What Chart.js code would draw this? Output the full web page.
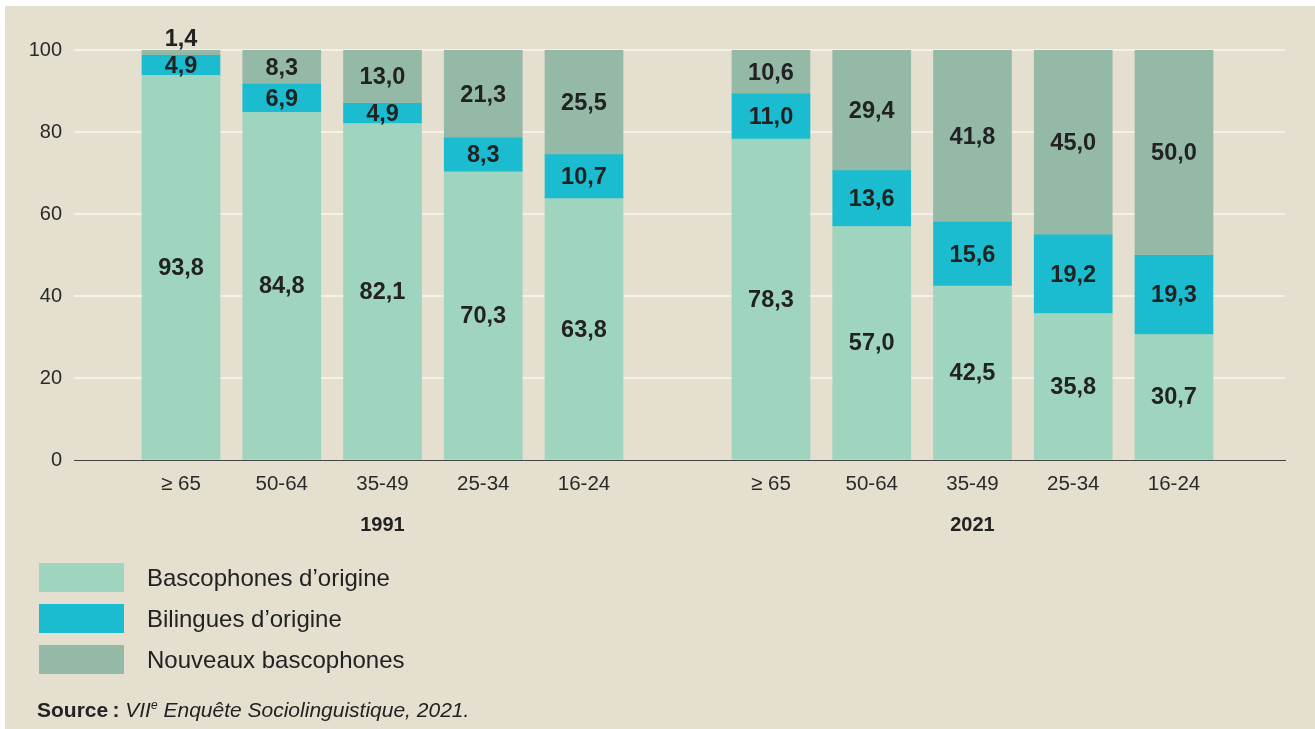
<!DOCTYPE html>
<html>
<head>
<meta charset="utf-8">
<script src="https://cdn.jsdelivr.net/npm/chart.js@4/dist/chart.umd.min.js"></script>
<style>
  html, body { margin: 0; padding: 0; background: #fff; }
  #page { position: relative; width: 1315px; height: 729px; overflow: hidden; font-family: "Liberation Sans", Arial, sans-serif; color: #222; }
  #bg { position: absolute; left: 5px; top: 6px; right: 0; bottom: 0; background: #e4dfce; }
  #chartBox { position: absolute; left: 0; top: 0; width: 1315px; height: 729px; }
  .legend-item { position: absolute; left: 39px; height: 29px; display: flex; align-items: center; font-size: 24px; }
  .legend-item span.box { display: inline-block; width: 85px; height: 29px; margin-right: 23px; }
  #source { position: absolute; left: 37px; top: 698px; font-size: 21px; line-height: 24px; }
  #source sup { font-size: 12px; vertical-align: 8px; line-height: 0; }
</style>
</head>
<body>
<div id="page">
  <div id="bg"></div>
  <div id="chartBox"><canvas id="mainChart"></canvas></div>
  <div id="legend"></div>
  <div id="source"><b>Source&#8239;:</b> <i>VII<sup>e</sup> Enquête Sociolinguistique, 2021.</i></div>
</div>
<script>
let years = ["1991", "2021"];
let ages = ["≥ 65", "50-64", "35-49", "25-34", "16-24"];
let seriesNames = ["Bascophones d’origine", "Bilingues d’origine", "Nouveaux bascophones"];
let bascophones = [93.8, 84.8, 82.1, 70.3, 63.8, 78.3, 57.0, 42.5, 35.8, 30.7];
let bilingues = [4.9, 6.9, 4.9, 8.3, 10.7, 11.0, 13.6, 15.6, 19.2, 19.3];
let nouveaux = [1.4, 8.3, 13.0, 21.3, 25.5, 10.6, 29.4, 41.8, 45.0, 50.0];
let colorHex = ["#9fd5bf", "#1cbcd0", "#95b9a7"];

// layout of the two year groups on a linear x axis
let groupStep = 5.856;
let xMin = -1.062;
let xMax = 10.958;
let xPos = bascophones.map((v, i) => (i % ages.length) + Math.floor(i / ages.length) * groupStep);
let yearPos = years.map((y, g) => (ages.length - 1) / 2 + g * groupStep);

let fontFamily = "'Liberation Sans', Arial, sans-serif";

let datasets = [bascophones, bilingues, nouveaux].map((values, k) => ({
  label: seriesNames[k],
  data: values.map((v, i) => ({ x: xPos[i], y: v })),
  backgroundColor: colorHex[k],
  borderWidth: 0,
  barThickness: 78,
}));

// value labels on the segments
let valueLabels = {
  id: "valueLabels",
  afterDatasetsDraw(chart) {
    let c = chart.ctx;
    c.save();
    c.font = "bold 23.5px " + fontFamily;
    c.fillStyle = "#222";
    c.textAlign = "center";
    chart.data.datasets.forEach((ds, k) => {
      let meta = chart.getDatasetMeta(k);
      meta.data.forEach((bar, i) => {
        let v = ds.data[i].y;
        let text = v.toFixed(1).replace(".", ",");
        if (v < 3) {
          c.textBaseline = "alphabetic";
          c.fillText(text, bar.x, bar.y - 4);
        } else {
          c.textBaseline = "middle";
          c.fillText(text, bar.x, (bar.y + bar.base) / 2 + 1);
        }
      });
    });
    c.restore();
  },
};

let ctx = document.getElementById("mainChart").getContext("2d");
let myChart = new Chart(ctx, {
  type: "bar",
  data: { datasets: datasets },
  plugins: [valueLabels],
  options: {
    responsive: false,
    animation: false,
    maintainAspectRatio: false,
    layout: { padding: { left: 0, right: 30, top: 50, bottom: 192.5 } },
    plugins: { legend: { display: false }, tooltip: { enabled: false } },
    scales: {
      x: {
        type: "linear",
        stacked: true,
        offset: false,
        min: xMin,
        max: xMax,
        weight: 0,
        grid: { display: false, drawTicks: false },
        border: { display: true, color: "#444", width: 1 },
        afterBuildTicks: (axis) => { axis.ticks = xPos.map((v) => ({ value: v })); },
        afterFit: (scale) => { scale.height = 36; },
        ticks: {
          autoSkip: false,
          maxRotation: 0,
          padding: 12,
          color: "#2a2a2a",
          font: { family: fontFamily, size: 20.5 },
          callback: (value, index) => ages[index % ages.length],
        },
      },
      yearAxis: {
        type: "linear",
        position: "bottom",
        offset: false,
        min: xMin,
        max: xMax,
        weight: 1,
        grid: { display: false, drawTicks: false },
        border: { display: false },
        afterBuildTicks: (axis) => { axis.ticks = yearPos.map((v) => ({ value: v })); },
        afterFit: (scale) => { scale.height = 40; },
        ticks: {
          autoSkip: false,
          maxRotation: 0,
          padding: 17,
          color: "#222",
          font: { family: fontFamily, size: 20, weight: "bold" },
          callback: (value, index) => years[index],
        },
      },
      y: {
        stacked: true,
        min: 0,
        max: 100,
        grid: {
          drawTicks: false,
          lineWidth: 2,
          color: (c) => (c.tick && c.tick.value === 0 ? "rgba(0,0,0,0)" : "#f4f1e8"),
        },
        border: { display: false },
        afterFit: (scale) => { scale.width = 74; },
        ticks: {
          stepSize: 20,
          padding: 12,
          color: "#2a2a2a",
          font: { family: fontFamily, size: 20 },
        },
      },
    },
  },
});
myChart.canvas.style.width = "1315px";
myChart.canvas.style.height = "729px";
myChart.resize(1315, 729);

// legend as a vertical list under the chart
let legendBox = document.getElementById("legend");
seriesNames.forEach((name, k) => {
  let item = document.createElement("div");
  item.className = "legend-item";
  item.style.top = 563 + k * 41 + "px";
  item.innerHTML = '<span class="box" style="background:' + colorHex[k] + '"></span>' + name;
  legendBox.appendChild(item);
});
</script>
</body>
</html>
